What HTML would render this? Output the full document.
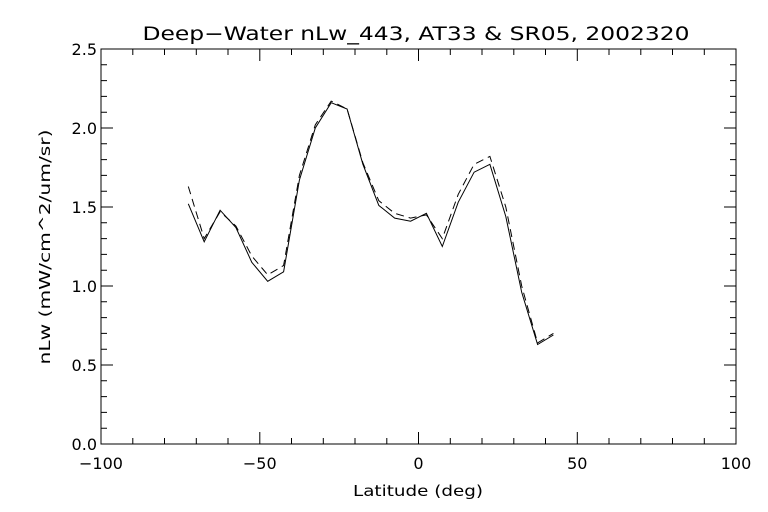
<!DOCTYPE html>
<html><head><meta charset="utf-8"><style>
html,body{margin:0;padding:0;background:#fff;}
svg{display:block;font-family:"DejaVu Sans","Liberation Sans",sans-serif;}
</style></head><body>
<svg id="chart" width="768" height="512" viewBox="0 0 768 512">
<rect x="0" y="0" width="768" height="512" fill="#fff"/>
<text x="416" y="40" font-size="19" text-anchor="middle" textLength="547" lengthAdjust="spacingAndGlyphs" fill="#000">Deep−Water nLw_443, AT33 &amp; SR05, 2002320</text>
<text x="418" y="496" font-size="15" text-anchor="middle" textLength="130" lengthAdjust="spacingAndGlyphs" fill="#000">Latitude (deg)</text>
<text x="0" y="0" font-size="15" text-anchor="middle" textLength="235" lengthAdjust="spacingAndGlyphs" fill="#000" transform="translate(50,247) rotate(-90)">nLw (mW/cm^2/um/sr)</text>
<g id="axes"></g>
<g id="series"></g>
</svg>
<script>
const lats = [-72.5,-67.5,-62.5,-57.5,-52.5,-47.5,-42.5,-37.5,-32.5,-27.5,-22.5,-17.5,-12.5,-7.5,-2.5,2.5,7.5,12.5,17.5,22.5,27.5,32.5,37.5,42.5];
const solidVals = [1.52,1.28,1.48,1.37,1.15,1.03,1.09,1.67,2.00,2.16,2.12,1.77,1.51,1.43,1.41,1.46,1.25,1.53,1.72,1.77,1.44,0.96,0.63,0.69];
const dashedVals = [1.63,1.30,1.47,1.38,1.19,1.07,1.13,1.70,2.02,2.17,2.12,1.78,1.54,1.46,1.43,1.45,1.30,1.58,1.77,1.82,1.50,1.00,0.64,0.70];
const xTicks = [-100,-50,0,50,100];
const yTicks = [0.0,0.5,1.0,1.5,2.0,2.5];

const L=101,R=736,T=49,B=444;
const xMin=-100,xMax=100,yMin=0,yMax=2.5;
function sx(v){return L+(v-xMin)/(xMax-xMin)*(R-L);}
function sy(v){return B-(v-yMin)/(yMax-yMin)*(B-T);}
const NS='http://www.w3.org/2000/svg';
const axes=document.getElementById('axes');
const series=document.getElementById('series');
function mk(tag,attrs,parent){const e=document.createElementNS(NS,tag);for(const k in attrs)e.setAttribute(k,attrs[k]);parent.appendChild(e);return e;}

const box=mk('rect',{x:L,y:T,width:R-L,height:B-T,fill:'none',stroke:'#000','stroke-width':1},axes);



let d='';
for(let v=-100;v<=100;v+=10){
  const x=sx(v).toFixed(1);const len=(v%50===0)?12:6;
  d+=`M${x},${B}v${-len}M${x},${T}v${len}`;
}
for(let i=0;i<=25;i++){
  const v=i/10;const y=sy(v).toFixed(1);const len=(i%5===0)?12:6;
  d+=`M${L},${y}h${len}M${R},${y}h${-len}`;
}
const ticks=mk('path',{d:d,stroke:'#000','stroke-width':1,fill:'none'},axes);



xTicks.forEach(v=>{
  const t=mk('text',{x:sx(v),y:469,'font-size':16,'text-anchor':'middle',fill:'#000'},axes);
  t.textContent=(v<0?'−'+Math.abs(v):String(v));
  
  
});
yTicks.forEach(v=>{
  const t=mk('text',{x:97,y:sy(v)+6,'font-size':16,'text-anchor':'end',fill:'#000'},axes);
  t.textContent=v.toFixed(1);
  
  
});

function line(vals,dash,name){
  const pts=lats.map((la,i)=>sx(la).toFixed(1)+','+sy(vals[i]).toFixed(1)).join(' ');
  const p=mk('polyline',{points:pts,fill:'none',stroke:'#000','stroke-width':1},series);
  if(dash)p.setAttribute('stroke-dasharray',dash);
  
  
}
line(solidVals,null,'at33-solid-line');
line(dashedVals,'8,5','sr05-dashed-line');
</script>
</body></html>
